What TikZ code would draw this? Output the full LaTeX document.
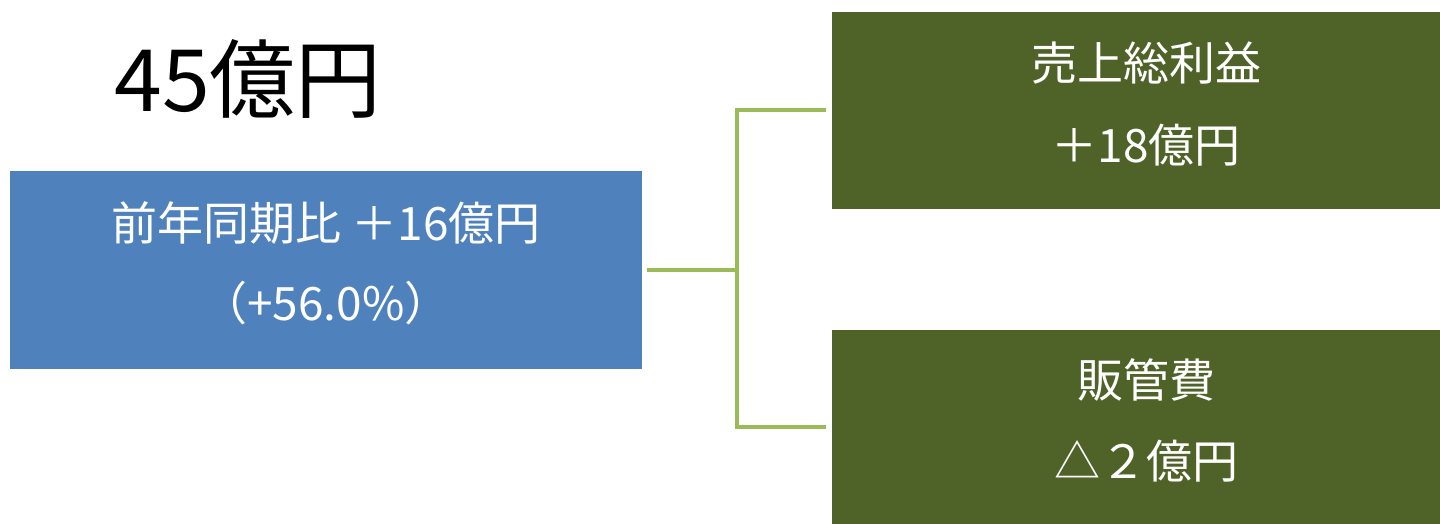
\documentclass[tikz,border=0pt]{standalone}
\usepackage{fontspec}
\setmainfont{Noto Sans CJK JP}
\definecolor{boxblue}{HTML}{4F81BD}
\definecolor{boxgreen}{HTML}{4F6228}
\definecolor{linegreen}{HTML}{9BBB59}
\tikzset{
  x=1pt, y=1pt,
  bluebox/.style={fill=boxblue, draw=none, minimum width=632pt, minimum height=198pt, inner sep=0pt},
  greenbox/.style={fill=boxgreen, draw=none, minimum width=608pt, inner sep=0pt},
  boxtext/.style={text=white, inner sep=0pt, align=center},
  conn/.style={draw=linegreen, line width=4pt, line join=miter}
}
\begin{document}
\begin{tikzpicture}
\useasboundingbox (0,0) rectangle (1440,-524);
\node[anchor=base, inner sep=0pt, font=\fontsize{86}{96}\selectfont] (total) at (248,-112) {45億円};
\node[bluebox] (blue) at (326,-270) {};
\node[greenbox, minimum height=197pt] (top) at (1136,-110.5) {};
\node[greenbox, minimum height=194pt] (bot) at (1136,-427) {};
\node[boxtext, font=\fontsize{46}{80}\selectfont] (bluetext) at ([yshift=7pt]blue.center) {前年同期比 ＋16億円\\（+56.0\%）};
\node[boxtext, font=\fontsize{46}{82}\selectfont] (toptext) at ([xshift=10pt,yshift=7pt]top.center) {売上総利益\\＋18億円};
\node[boxtext, font=\fontsize{46}{81}\selectfont] (bottext) at ([xshift=10pt,yshift=7pt]bot.center) {販管費\\△２億円};
\coordinate (j) at (737,-270);
\draw[conn] ([xshift=5pt]blue.east) -- (j);
\draw[conn] ([xshift=-6pt]top.west) -| (j) |- ([xshift=-6pt]bot.west);
\end{tikzpicture}
\end{document}
